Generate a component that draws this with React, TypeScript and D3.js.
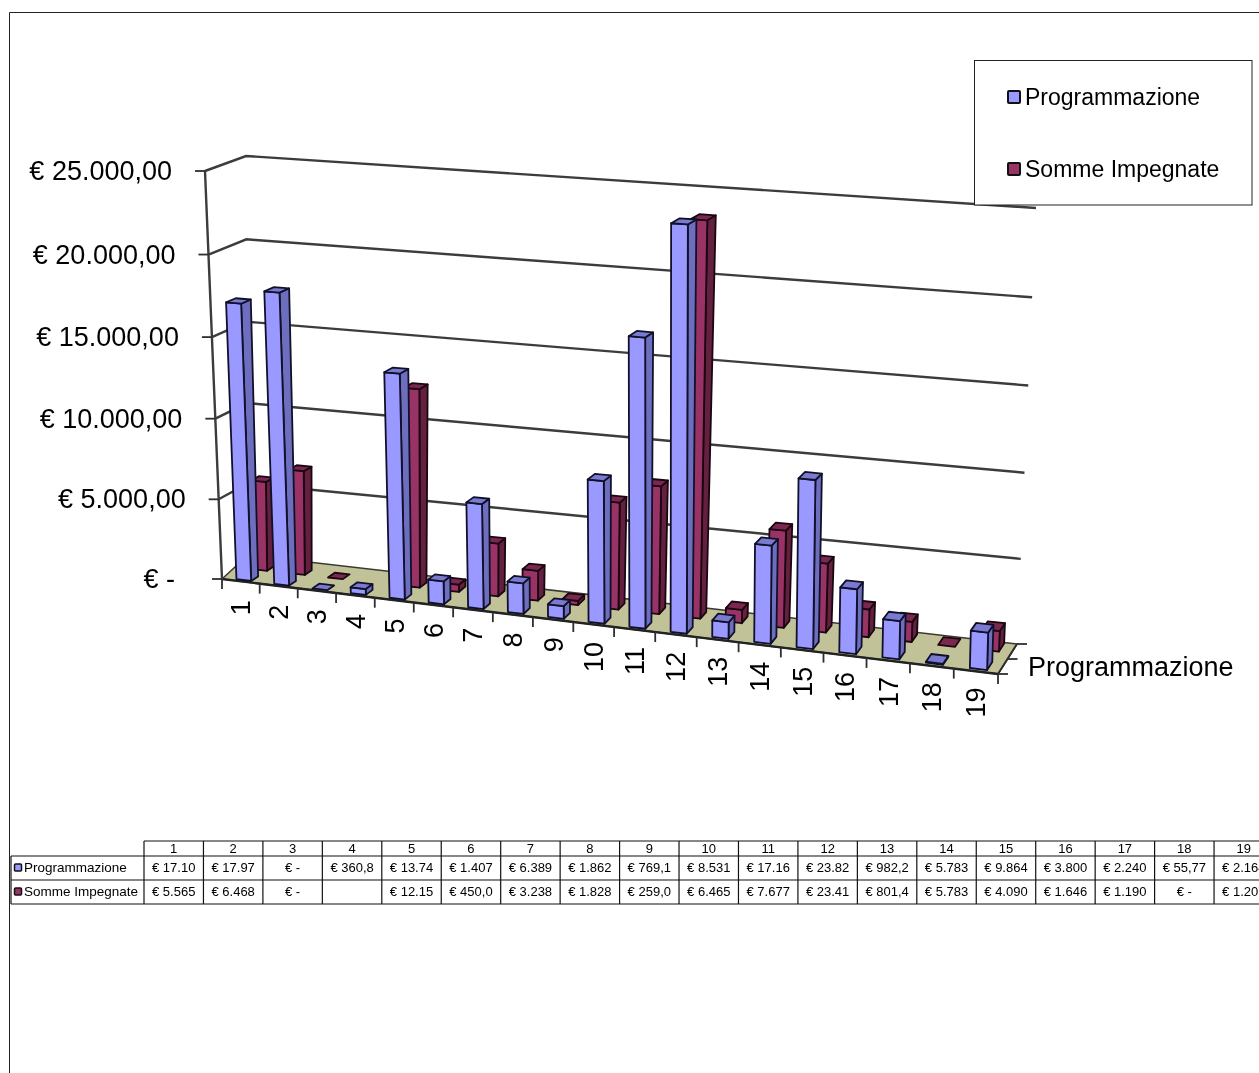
import React from "react";
import * as d3 from "d3";

const categories = ["1","2","3","4","5","6","7","8","9","10","11","12","13","14","15","16","17","18","19"];
const seriesNames = ["Programmazione", "Somme Impegnate"];
const programmazione: (number | null)[] = [17100,17970,0,360.8,13740,1407,6389,1862,769.1,8531,17160,23820,982.2,5783,9864,3800,2240,55.77,2164];
const sommeImpegnate: (number | null)[] = [5565,6468,0,null,12150,450,3238,1828,259,6465,7677,23410,801.4,5783,4090,1646,1190,0,1207];
const tableProgrammazione = ["€ 17.10","€ 17.97","€ -","€ 360,8","€ 13.74","€ 1.407","€ 6.389","€ 1.862","€ 769,1","€ 8.531","€ 17.16","€ 23.82","€ 982,2","€ 5.783","€ 9.864","€ 3.800","€ 2.240","€ 55,77","€ 2.164"];
const tableSomme = ["€ 5.565","€ 6.468","€ -","","€ 12.15","€ 450,0","€ 3.238","€ 1.828","€ 259,0","€ 6.465","€ 7.677","€ 23.41","€ 801,4","€ 5.783","€ 4.090","€ 1.646","€ 1.190","€ -","€ 1.207"];
const yTicks = [0,5000,10000,15000,20000,25000];
const yTickLabels = ["€ -","€ 5.000,00","€ 10.000,00","€ 15.000,00","€ 20.000,00","€ 25.000,00"];

type P = [number, number];
const FONT = "'Liberation Sans', Arial, sans-serif";
const floorFL: P = [222,579], floorFR: P = [998,674], floorBL: P = [248,563], floorBR: P = [1017,644];
const topFL: P = [205,171], topFR: P = [1010,228], topBL: P = [246,156], topBR: P = [1036,208];
const floorEdgeBL: P = [248,555];

const catScale = d3.scaleLinear().domain([0,19]).range([0,1]);
const valScale = d3.scaleLinear().domain([0,25000]).range([0,1]);
const CAT_WARP = 1.088, VAL_WARP = 1.03;
const lerp = (a: number, b: number, k: number) => a + (b - a) * k;
const lerpP = (a: P, b: P, k: number): P => [lerp(a[0], b[0], k), lerp(a[1], b[1], k)];
const warp = (t: number, r: number) => t / (r - (r - 1) * t);
const project = (c: number, z: number, v: number): P => {
  const u = warp(catScale(c), CAT_WARP);
  const f = lerpP(lerpP(floorFL, floorFR, u), lerpP(floorBL, floorBR, u), z);
  const tp = lerpP(lerpP(topFL, topFR, u), lerpP(topBL, topBR, u), z);
  return lerpP(f, tp, warp(valScale(v), VAL_WARP));
};
const poly = d3.line<P>().x(d => d[0]).y(d => d[1]).curve(d3.curveLinearClosed);

const barA = 0.33, barB = 0.72;
const depth = [[0.08,0.35],[0.70,0.97]];
const colors = [
  { front:"#9999FF", side:"#6E6EBE", top:"#7A7AD0", edge:"#10102a" },
  { front:"#993366", side:"#63203F", top:"#7A2850", edge:"#1a0610" },
];

function Bar({ i, v, s }: { i:number; v:number; s:number }) {
  const [z0,z1] = depth[s]; const c = colors[s];
  const a = i + barA, b = i + barB;
  const front = [project(a,z0,0),project(b,z0,0),project(b,z0,v),project(a,z0,v)] as P[];
  const side = [project(b,z0,0),project(b,z1,0),project(b,z1,v),project(b,z0,v)] as P[];
  const top = [project(a,z0,v),project(b,z0,v),project(b,z1,v),project(a,z1,v)] as P[];
  const st = { stroke:c.edge, strokeWidth:1.8, strokeLinejoin:"round" as const };
  return <g>
    {v > 0 && <path d={poly(side)!} fill={c.side} {...st}/>}
    {v > 0 && <path d={poly(front)!} fill={c.front} {...st}/>}
    <path d={poly(top)!} fill={c.top} {...st}/>
  </g>;
}

const colX = d3.scaleLinear().domain([0,19]).range([144,1273.5]);
const rowY = [841,856,880,904];

function Swatch({ x, y, size, fill, w }: { x:number; y:number; size:number; fill:string; w:number }) {
  return <rect x={x} y={y} width={size} height={size} rx={1} fill={fill} stroke="#111" strokeWidth={w}/>;
}

export default function App() {
  const floor = [project(0,0,0),project(19,0,0),project(19,1,0),floorEdgeBL] as P[];
  const rows = [tableProgrammazione, tableSomme];
  return (
    <svg width={1259} height={1073} style={{ position:"absolute", left:0, top:0, background:"#fff", fontFamily:FONT, filter:"blur(0.6px)" }}>
      <defs>
        {categories.map((_, i) => <clipPath key={i} id={`cell${i}`}><rect x={colX(i)+2} y={rowY[0]} width={colX(1)-colX(0)-4} height={70}/></clipPath>)}
      </defs>
      <path d="M9.5,1073V12.5H1259" fill="none" stroke="#222" strokeWidth={1}/>

      {yTicks.slice(1).map(t => {
        const a = project(0,0,t), b = project(0,1,t), c = project(19,1,t);
        return <path key={t} d={`M${a}L${b}L${c}`} fill="none" stroke="#3c3c3c" strokeWidth={2.4}/>;
      })}
      <path d={poly(floor)!} fill="#C2C298" stroke="#3a3a30" strokeWidth={1.6} strokeLinejoin="round"/>
      <path d={`M${project(0,0,0)}L${project(19,0,0)}`} stroke="#222" strokeWidth={2.4}/>
      <path d={`M${project(0,0,25000)}L${project(0,0,0)}`} stroke="#3c3c3c" strokeWidth={2.4} fill="none"/>
      {yTicks.map((t,k) => {
        const p = project(0,0,t);
        return <g key={t}>
          <path d={`M${p[0]-10},${p[1]}H${p[0]}`} stroke="#2e2e2e" strokeWidth={1.8}/>
          <text x={p[0]-(t===0?47:33)} y={p[1]+9} textAnchor="end" fontSize={27} fill="#000">{yTickLabels[k]}</text>
        </g>;
      })}
      {d3.range(0,20).map(i => {
        const p = project(i,0,0);
        return <path key={i} d={`M${p[0]},${p[1]}v10`} stroke="#2e2e2e" strokeWidth={1.8}/>;
      })}
      {categories.map((c,i) => {
        const p = project(i+0.5,0,0);
        return <text key={c} transform={`translate(${p[0]+9.5},${p[1]+19-3*catScale(i)}) rotate(-90)`} textAnchor="end" fontSize={27} fill="#000">{c}</text>;
      })}
      {[0,0.5,1].map(z => {
        const p = project(19,z,0);
        return <path key={z} d={`M${p[0]},${p[1]}h10`} stroke="#2e2e2e" strokeWidth={1.8}/>;
      })}
      <path d={`M${project(19,0,0)}L${project(19,1,0)}`} stroke="#2e2e2e" strokeWidth={1.8}/>
      <text x={1028} y={676} fontSize={27} fill="#000">{seriesNames[0]}</text>

      {sommeImpegnate.map((v,i) => v === null ? null : <Bar key={i} i={i} v={v} s={1}/>)}
      {programmazione.map((v,i) => v === null ? null : <Bar key={i} i={i} v={v} s={0}/>)}

      <rect x={974.5} y={60.5} width={277.5} height={144.5} fill="#fff" stroke="#222" strokeWidth={1}/>
      {seriesNames.map((n,k) => {
        const y = [97,169][k];
        return <g key={n}>
          <Swatch x={1008} y={y-6} size={12} fill={colors[k].front} w={2}/>
          <text x={1025} y={y+8} fontSize={23} fill="#000">{n}</text>
        </g>;
      })}

      <g stroke="#111" strokeWidth={1.2} fill="none">
        <path d={`M144,${rowY[0]}H1259`}/>
        {rowY.slice(1).map(y => <path key={y} d={`M11,${y}H1259`}/>)}
        <path d={`M11,${rowY[1]}V${rowY[3]}`}/>
        {d3.range(0,20).map(i => <path key={i} d={`M${colX(i)},${rowY[0]}V${rowY[3]}`}/>)}
      </g>
      {categories.map((c,i) => <text key={c} x={colX(i+0.5)} y={rowY[0]+12} textAnchor="middle" fontSize={13} fill="#000">{c}</text>)}
      {rows.map((r,k) => <g key={k}>
        <Swatch x={14.5} y={rowY[k+1]+8} size={7} fill={colors[k].front} w={1.5}/>
        <text x={24} y={rowY[k+1]+16} fontSize={13.5} fill="#000">{seriesNames[k]}</text>
        {r.map((t,i) => <text key={i} clipPath={`url(#cell${i})`} x={colX(i+0.5)} y={rowY[k+1]+16} textAnchor="middle" fontSize={13} fill="#000">{t}</text>)}
      </g>)}
    </svg>
  );
}
